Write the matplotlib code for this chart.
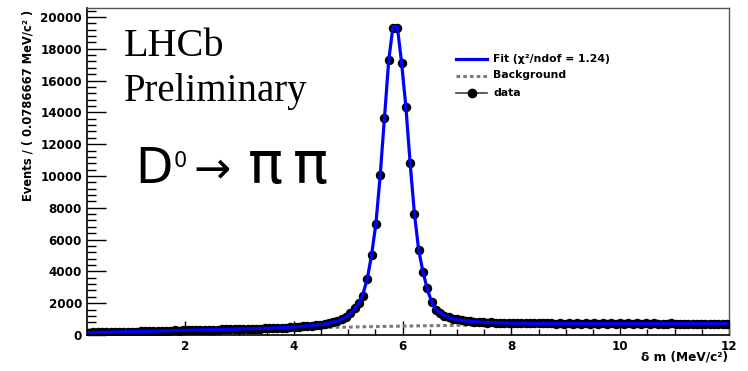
import numpy as np
import matplotlib
matplotlib.use('Agg')
import matplotlib.pyplot as plt
from matplotlib.lines import Line2D
from matplotlib.ticker import MultipleLocator, FixedLocator

# ---------------- data ----------------
x_min, x_max, n_bins = 0.2, 12.0, 150

data_counts = [
    145, 163, 158, 175, 170, 186, 183, 197, 195, 208,
    212, 214, 229, 228, 241, 243, 255, 254, 268, 270,
    283, 281, 296, 298, 309, 310, 322, 321, 334, 333,
    345, 346, 358, 356, 370, 369, 382, 388, 390, 404,
    405, 420, 423, 438, 442, 462, 468, 492, 500, 530,
    540, 572, 590, 628, 650, 700, 730, 800, 870, 980,
    1150, 1360, 1700, 1990, 2480, 3550, 5060, 7000, 10030, 13650,
    17280, 19330, 19330, 17120, 14360, 10800, 7630, 5330, 3970, 2930,
    2090, 1570, 1390, 1200, 1120, 1020, 980, 915, 900, 850,
    845, 808, 810, 780, 790, 765, 770, 750, 760, 742,
    750, 735, 745, 730, 740, 728, 738, 725, 735, 722,
    735, 720, 732, 722, 730, 718, 733, 720, 728, 716,
    730, 715, 728, 718, 726, 712, 727, 715, 724, 712,
    725, 710, 724, 712, 722, 710, 724, 709, 721, 711,
    720, 708, 722, 710, 719, 709, 720, 708, 718, 712,
]

fit_total = [
    150, 156, 162, 168, 174, 180, 186, 192, 198, 204,
    210, 217, 224, 231, 238, 245, 251, 258, 265, 272,
    279, 286, 293, 300, 306, 312, 318, 324, 330, 336,
    342, 348, 354, 360, 366, 372, 379, 386, 393, 400,
    408, 416, 425, 434, 446, 458, 472, 488, 505, 524,
    545, 568, 594, 622, 655, 692, 740, 800, 880, 990,
    1130, 1330, 1620, 2020, 2600, 3550, 5060, 7000, 10030, 13650,
    17280, 19400, 19400, 17120, 14360, 10800, 7630, 5330, 3970, 2900,
    2090, 1600, 1380, 1220, 1110, 1030, 970, 925, 890, 860,
    835, 815, 800, 788, 778, 770, 763, 757, 752, 748,
    744, 741, 739, 737, 735, 733, 732, 731, 730, 729,
    728, 727, 727, 726, 726, 725, 725, 724, 724, 723,
    723, 722, 722, 721, 721, 720, 720, 720, 719, 719,
    719, 718, 718, 718, 717, 717, 717, 716, 716, 716,
    716, 715, 715, 715, 715, 715, 714, 714, 714, 714,
]

bkg_x = [0.2, 0.5, 1.0, 1.5, 2.0, 2.5, 3.0, 3.5, 4.0, 4.5, 5.0, 5.5, 6.0,
         6.5, 7.0, 7.5, 8.0, 9.0, 10.0, 11.0, 12.0]
bkg_y = [120, 160, 210, 252, 290, 325, 360, 395, 430, 465, 498, 530, 560,
         585, 605, 622, 636, 655, 668, 678, 686]

x_ticks = [2, 4, 6, 8, 10, 12]
y_ticks = [0, 2000, 4000, 6000, 8000, 10000, 12000, 14000, 16000, 18000, 20000]

# ---------------- figure ----------------
W, H = 748, 371
fig = plt.figure(figsize=(W / 100, H / 100), dpi=100)
fig.patch.set_facecolor('white')
ax = fig.add_axes([87 / W, 1 - 335 / H, 642 / W, 327 / H])

edges = np.linspace(x_min, x_max, n_bins + 1)
centers = 0.5 * (edges[:-1] + edges[1:])
half = 0.5 * (edges[1] - edges[0])
counts = np.array(data_counts, dtype=float)

ax.plot(bkg_x, bkg_y, color='#7a7a7a', lw=2.2, dashes=(1.2, 1.0), zorder=2)
ax.errorbar(centers, counts, xerr=half, yerr=np.sqrt(counts), fmt='o',
            color='black', ms=5.8, elinewidth=1.0, capsize=0, zorder=3)
ax.plot(centers, fit_total, color='#0000ff', lw=2.3, zorder=4)

ax.set_xlim(x_min, x_max)
ax.set_ylim(0, 20560)

ax.xaxis.set_major_locator(FixedLocator(x_ticks))
ax.xaxis.set_minor_locator(MultipleLocator(0.5))
ax.yaxis.set_major_locator(FixedLocator(y_ticks))
ax.yaxis.set_minor_locator(MultipleLocator(400))

ax.tick_params(axis='y', which='major', direction='in', length=14, width=1.0,
               pad=3.6, labelsize=8.6, right=False)
ax.tick_params(axis='y', which='minor', direction='in', length=6.7, width=1.0,
               right=False)
ax.tick_params(axis='x', which='major', direction='in', length=10, width=1.0,
               pad=3.6, labelsize=8.6, top=False)
ax.tick_params(axis='x', which='minor', direction='in', length=4.5, width=1.0,
               top=False)
for lab in ax.get_xticklabels() + ax.get_yticklabels():
    lab.set_fontweight('bold')
    lab.set_family('DejaVu Sans')

for s in ('left', 'bottom'):
    ax.spines[s].set_color('black')
    ax.spines[s].set_linewidth(1.2)
for s in ('top', 'right'):
    ax.spines[s].set_color('#555555')
    ax.spines[s].set_linewidth(1.0)

# axis titles
fig.text(28 / W, 1 - 10 / H, 'Events / ( 0.0786667 MeV/c\u00b2 )', rotation=90,
         ha='center', va='top', fontweight='bold', fontsize=8.3,
         family='DejaVu Sans')
fig.text(728 / W, 1 - 357 / H, '\u03b4 m (MeV/c\u00b2)', ha='right', va='center',
         fontweight='bold', fontsize=8.7, family='DejaVu Sans')

# LHCb labels
fig.text(124 / W, 1 - 56 / H, 'LHCb', family='Liberation Serif', fontsize=29,
         ha='left', va='baseline')
fig.text(124 / W, 1 - 101 / H, 'Preliminary', family='Liberation Serif',
         fontsize=28, ha='left', va='baseline')

# decay label
fig.text(135 / W, 1 - 183 / H, 'D', family='DejaVu Sans', fontsize=35,
         ha='left', va='baseline')
fig.text(174 / W, 1 - 167 / H, '0', family='DejaVu Sans', fontsize=15,
         ha='left', va='baseline')
fig.text(193 / W, 1 - 182 / H, '\u2192', family='DejaVu Sans', fontsize=32,
         ha='left', va='baseline')
fig.text(265 / W, 1 - 183 / H, '\u03c0', family='DejaVu Sans', fontsize=42,
         ha='center', va='baseline')
fig.text(310 / W, 1 - 183 / H, '\u03c0', family='DejaVu Sans', fontsize=42,
         ha='center', va='baseline')

# legend (manual, no frame)
rows = [59, 75.5, 93]
labels = ['Fit (\u03c7\u00b2/ndof = 1.24)', 'Background', 'data']
x0, x1 = 456 / W, 487 / W
fig.add_artist(Line2D([x0, x1], [1 - rows[0] / H] * 2, color='#0000ff', lw=2.3,
                      transform=fig.transFigure))
fig.add_artist(Line2D([x0, x1], [1 - rows[1] / H] * 2, color='#7a7a7a', lw=2.2,
                      dashes=(1.2, 1.0), transform=fig.transFigure))
fig.add_artist(Line2D([x0, x1], [1 - rows[2] / H] * 2, color='#404040', lw=1.2,
                      transform=fig.transFigure))
fig.add_artist(Line2D([(x0 + x1) / 2], [1 - rows[2] / H], color='black',
                      marker='o', ms=6, ls='none', transform=fig.transFigure))
for r, t in zip(rows, labels):
    fig.text(493 / W, 1 - r / H, t, ha='left', va='center', fontweight='bold',
             fontsize=7.8, family='DejaVu Sans')

fig.savefig('out.png', dpi=100)
